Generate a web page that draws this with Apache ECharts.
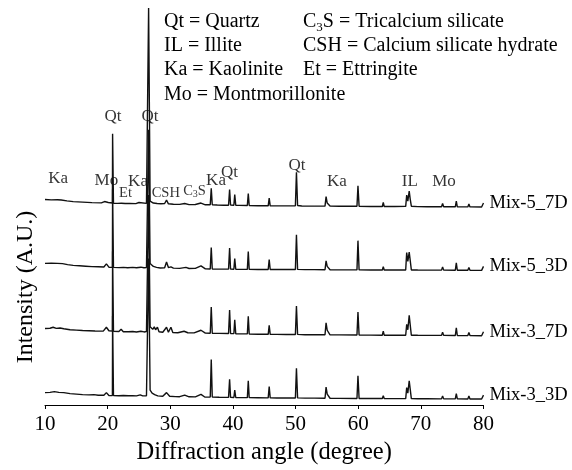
<!DOCTYPE html>
<html>
<head>
<meta charset="utf-8">
<script src="https://cdn.jsdelivr.net/npm/echarts@6/dist/echarts.min.js"></script>
<style>html,body{margin:0;padding:0;background:#fff}#c{width:572px;height:470px}</style>
</head>
<body>
<div id="c"></div>
<script>
// ---- data (2θ in degrees, intensity in arbitrary units, relative to each pattern's own baseline) ----
const traceNames = ['Mix-3_3D', 'Mix-3_7D', 'Mix-5_3D', 'Mix-5_7D'];
const traceOffsets = [6, 70, 136, 200];

const mix3_3D = [[10,6.5],[10.8,6.8],[11.5,7.5],[12.2,6.8],[13,6.5],[14,5.5],[15,5],[16,4.5],[17,4.2],[17.8,4.5],[18.5,3.8],[19.4,3.8],[19.8,6.5],[20.2,3.6],[20.76,3.5],[20.79,84],[20.9,84],[20.93,3.5],[21.8,3.4],[22.5,3.6],[23.3,3.3],[24,3.5],[24.6,3.2],[25.2,4.2],[25.6,3.2],[26.2,3.4],[26.5,4],[26.54,142],[26.74,142],[26.78,9],[27.1,6],[27.5,4.5],[28,3.2],[28.8,2.8],[29.4,6.5],[29.9,2.8],[30.8,2.5],[31.5,2.4],[32.3,4],[33,2.3],[34,2.2],[34.9,4.8],[35.5,2.1],[36.38,2],[36.54,40],[36.7,2],[37.8,1.8],[39.3,1.7],[39.47,20],[39.62,1.7],[40.15,1.6],[40.29,9],[40.45,1.6],[41.5,1.4],[42.3,1.4],[42.45,18.5],[42.6,1.4],[44,1.3],[45.63,1.2],[45.79,12.5],[45.95,1.2],[47,1.1],[48.5,1],[49.97,1],[50.14,31],[50.32,1.2],[51.5,0.9],[53,0.9],[54.7,0.8],[54.87,12],[55.05,5],[55.3,4],[55.5,0.8],[57,0.7],[59.8,0.6],[59.96,23.5],[60.14,0.6],[62,0.5],[63.85,0.5],[64,3.5],[64.15,0.5],[66,0.4],[67.58,0.5],[67.74,11.5],[67.92,6],[68.14,18.5],[68.3,10],[68.48,0.5],[69.5,0.3],[71,0.3],[73.3,0.2],[73.47,3.2],[73.64,0.2],[75.5,0.2],[75.66,5.5],[75.82,0.2],[77.5,0.1],[77.67,3],[77.84,0.1],[79.7,0],[80,4]];

const mix3_7D = [[10,7.3],[10.8,7.5],[11.3,8.5],[11.8,7.4],[12.4,7.8],[13,7],[14,6],[15,5.6],[16,5.2],[17,5],[18,4.8],[19.3,4.6],[19.8,8.5],[20.2,5],[20.76,4.6],[20.79,85],[20.9,85],[20.93,4.5],[21.8,4.2],[22.15,6.5],[22.5,4],[23.3,4],[24,4.3],[24.6,3.8],[25.3,4.5],[25.8,3.8],[26.2,4.2],[26.5,5],[26.54,142],[26.74,142],[26.78,9],[27.2,6.5],[27.45,9],[27.65,6],[27.95,8.5],[28.2,4],[28.8,3.5],[29.4,8.5],[29.7,3.5],[30.1,8.5],[30.4,3.3],[31.2,3],[32.2,4.5],[32.8,3],[33.8,2.8],[34.9,5.5],[35.6,2.6],[36.38,2.5],[36.54,29],[36.7,2.5],[37.8,2.3],[39.3,2.2],[39.47,26],[39.62,2.2],[40.15,2.1],[40.29,16],[40.45,2],[41.5,1.8],[42.3,1.8],[42.45,19.5],[42.6,1.7],[44,1.5],[45.63,1.4],[45.79,10.5],[45.95,1.4],[47,1.3],[48.5,1.2],[49.97,1.2],[50.14,30],[50.32,1.3],[51.5,1],[53,1],[54.7,0.9],[54.87,13],[55.05,5.5],[55.3,4.5],[55.5,0.9],[57,0.8],[59.8,0.7],[59.96,24],[60.14,0.7],[62,0.6],[63.85,0.5],[64,4.5],[64.15,0.5],[66,0.4],[67.58,0.5],[67.74,11.5],[67.92,6],[68.14,20.5],[68.3,11],[68.48,0.5],[69.5,0.4],[71,0.3],[73.3,0.3],[73.47,3.5],[73.64,0.3],[75.5,0.2],[75.66,8],[75.82,0.2],[77.5,0.1],[77.67,3.2],[77.84,0.1],[79.7,0],[80,4]];

const mix5_3D = [[10,7],[11,7.2],[12,7],[12.8,6.8],[13.6,5.8],[14.5,5],[15.5,4.6],[16.5,4.2],[17.5,3.8],[18.5,3.6],[19.4,3.4],[19.8,6.5],[20.2,3.2],[20.76,3],[20.79,82],[20.9,82],[20.93,3],[21.8,2.8],[22.5,3],[23.2,2.6],[24,3],[24.6,2.6],[25.3,3.2],[25.8,2.6],[26.2,2.9],[26.5,3.5],[26.54,142],[26.74,142],[26.78,7],[27.3,4],[27.8,3],[28.4,2.4],[29.1,2.6],[29.4,8.5],[29.7,2.8],[30.1,3.5],[30.5,2.2],[31.5,2],[32.5,3],[33,1.9],[34,2],[34.9,4.5],[35.6,1.5],[36.38,1.3],[36.54,23],[36.7,1.3],[37.8,1.2],[39.3,1.2],[39.47,22.5],[39.62,1.2],[40.15,1.1],[40.29,12],[40.45,1.1],[41.5,1],[42.3,1],[42.45,19],[42.6,1],[44,0.9],[45.63,0.9],[45.79,11],[45.95,0.9],[47,0.8],[48.5,0.8],[49.97,0.8],[50.14,36],[50.32,1],[51.5,0.7],[53,0.7],[54.7,0.6],[54.87,9.5],[55.05,4],[55.3,3.5],[55.5,0.6],[57,0.5],[59.8,0.5],[59.96,30],[60.14,0.5],[62,0.4],[63.85,0.4],[64,3.8],[64.15,0.4],[65.7,0.4],[65.9,2],[66.1,0.4],[67.58,0.4],[67.74,18],[67.92,9],[68.14,18.5],[68.3,10],[68.48,0.4],[69.5,0.3],[71,0.2],[73.3,0.2],[73.47,3.5],[73.64,0.2],[75.5,0.1],[75.66,7.5],[75.82,0.1],[77.5,0.1],[77.67,3],[77.84,0],[79.7,0],[80,4]];

const mix5_7D = [[10,7.5],[11,7.2],[12,7.3],[12.6,7],[13.5,6.2],[14.5,5.4],[16,4.9],[17.5,4.4],[19,4.2],[19.5,5.5],[19.8,7],[20.1,4.5],[20.76,4],[20.79,74],[20.9,74],[20.93,3.8],[21.6,3.7],[22.2,3.8],[22.8,3.5],[23.5,3.6],[24.5,3.4],[25,4.5],[25.3,3.4],[26.2,3.6],[26.5,4],[26.54,201],[26.74,201],[26.78,6],[27.3,4],[27.9,3.5],[28.5,3.2],[29.1,3.5],[29.4,7],[29.7,3.2],[30.5,2.8],[31.5,2.6],[32.3,3.5],[33,2.4],[34,2.5],[34.9,4],[35.6,2.2],[36.38,2.2],[36.54,19],[36.7,2.2],[37.5,2],[38.5,1.8],[39.3,1.8],[39.47,17.5],[39.62,2],[40.15,1.8],[40.29,12.5],[40.45,1.7],[41,1.6],[42.3,1.5],[42.45,13.5],[42.6,1.5],[44,1.3],[45.63,1.2],[45.79,9],[45.95,1.2],[47,1.1],[48,1.1],[49.97,1.2],[50.14,35],[50.32,1.5],[51,1],[53,0.9],[54.7,0.9],[54.87,10.5],[55.05,4],[55.3,3.5],[55.5,1],[57,0.7],[59.8,0.7],[59.96,21.5],[60.14,0.8],[62,0.5],[63.85,0.5],[64,4.5],[64.15,0.5],[65.8,0.5],[67.58,0.6],[67.74,12],[67.92,6],[68.14,16],[68.3,8],[68.48,0.8],[69.5,0.4],[71,0.3],[73.3,0.3],[73.47,3.5],[73.64,0.3],[75.5,0.2],[75.66,6],[75.82,0.2],[77.5,0.1],[77.67,3],[77.84,0.1],[79.7,0],[80,4]];

const traceData = [mix3_3D, mix3_7D, mix5_3D, mix5_7D];

// peak annotations: text, 2θ, level (same units as the stacked intensity)
const peakLabelText  = ['Ka', 'Mo', 'Et', 'Ka', 'Qt', 'Qt', 'CSH', 'C3S', 'Ka', 'Qt', 'Qt', 'Ka', 'IL', 'Mo'];
const peakLabelAngle = [12.1, 19.8, 22.85, 24.85, 20.86, 26.76, 29.28, 33.87, 37.3, 39.45, 50.23, 56.6, 68.24, 73.7];
const peakLabelLevel = [229, 227, 214, 226, 291, 291, 214, 216, 227, 235, 242, 226, 226, 226];

const xTicks = [10, 20, 30, 40, 50, 60, 70, 80];

// ---- chart ----
const FF = '"Liberation Serif", "Times New Roman", Times, serif';
const smallLabels = new Set(['Et', 'CSH', 'C3S']);
const chart = echarts.init(document.getElementById('c'), null, {renderer: 'canvas'});

const lineSeries = traceNames.map((name, i) => ({
  name: name,
  type: 'line',
  showSymbol: false,
  symbol: 'none',
  clip: true,
  silent: true,
  data: traceData[i].map(p => [p[0], p[1] + traceOffsets[i]]),
  lineStyle: {color: '#111', width: 1.4},
  endLabel: {
    show: true,
    formatter: name,
    color: '#000',
    fontSize: 18.5,
    fontFamily: FF,
    distance: 6
  }
}));

const labelSeries = {
  type: 'scatter',
  symbolSize: 1,
  silent: true,
  itemStyle: {color: 'transparent'},
  data: peakLabelText.map((t, i) => ({
    name: t,
    value: [peakLabelAngle[i], peakLabelLevel[i]],
    label: {fontSize: smallLabels.has(t) ? 14.5 : 17}
  })),
  label: {
    show: true,
    position: 'inside',
    color: '#000',
    fontFamily: FF,
    formatter: p => p.name === 'C3S' ? '{n|C}{s|3}{n|S}' : p.name,
    rich: {
      n: {fontFamily: FF, fontSize: 14.5, color: '#000', lineHeight: 16},
      s: {fontFamily: FF, fontSize: 10, color: '#000', lineHeight: 10, verticalAlign: 'bottom'}
    }
  }
};

const legendRich = {
  n: {fontFamily: FF, fontSize: 20, fill: '#000', lineHeight: 24},
  s: {fontFamily: FF, fontSize: 13, fill: '#000', lineHeight: 12, verticalAlign: 'bottom'}
};
function legendText(x, y, text) {
  return {
    type: 'text', x: x, y: y, silent: true,
    style: {text: text, rich: legendRich, verticalAlign: 'middle', align: 'left',
            fontFamily: FF, fontSize: 20, fill: '#000'}
  };
}

const option = {
  animation: false,
  backgroundColor: '#fff',
  grid: {left: 45, right: 88.5, top: 7, bottom: 61},
  xAxis: {
    type: 'value', min: xTicks[0], max: xTicks[xTicks.length - 1], interval: 10,
    axisLine: {lineStyle: {color: '#000', width: 1}},
    axisTick: {show: true, length: 4, lineStyle: {color: '#000', width: 1}},
    axisLabel: {color: '#000', fontSize: 21, fontFamily: FF, margin: 9},
    splitLine: {show: false},
    name: 'Diffraction angle (degree)',
    nameLocation: 'middle',
    nameGap: 35,
    nameTextStyle: {color: '#000', fontSize: 24.5, fontFamily: FF}
  },
  yAxis: {type: 'value', min: 0, max: 402, show: false},
  series: lineSeries.concat([labelSeries]),
  graphic: [
    {
      type: 'text', x: 26, y: 287, rotation: Math.PI / 2, silent: true,
      style: {text: 'Intensity (A.U.)', fontFamily: FF, fontSize: 24, fill: '#000',
              align: 'center', verticalAlign: 'middle'}
    },
    legendText(164, 22, '{n|Qt = Quartz}'),
    legendText(164, 46, '{n|IL = Illite}'),
    legendText(164, 70, '{n|Ka = Kaolinite}'),
    legendText(164, 94.5, '{n|Mo = Montmorillonite}'),
    legendText(303, 22, '{n|C}{s|3}{n|S = Tricalcium silicate}'),
    legendText(303, 46, '{n|CSH = Calcium silicate hydrate}'),
    legendText(303, 70, '{n|Et = Ettringite}')
  ]
};
chart.setOption(option);
</script>
</body>
</html>
